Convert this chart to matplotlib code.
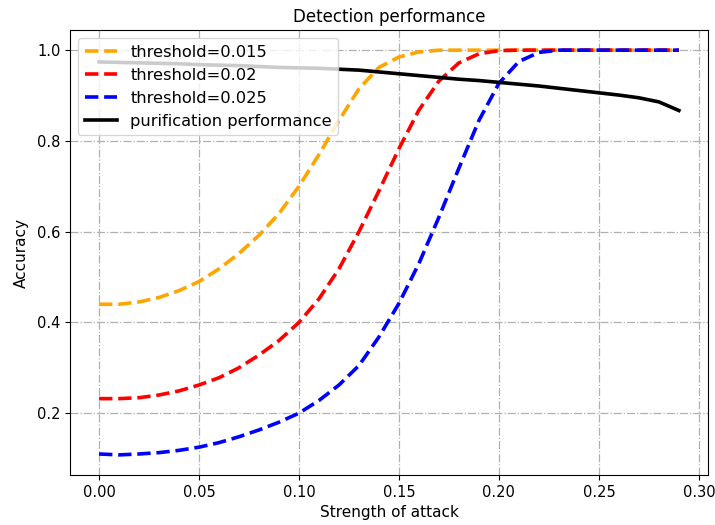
import matplotlib
matplotlib.use("Agg")
import matplotlib.pyplot as plt
import numpy as np

# attack strength 0.00 .. 0.29
strength = [i / 100 for i in range(30)]

acc_015 = [0.440, 0.440, 0.445, 0.455, 0.470, 0.490, 0.518, 0.552, 0.592, 0.640,
           0.700, 0.770, 0.845, 0.915, 0.962, 0.985, 0.996, 1.000, 1.000, 1.000,
           1.000, 1.000, 1.000, 1.000, 1.000, 1.000, 1.000, 1.000, 1.000, 1.000]
acc_02 = [0.232, 0.232, 0.234, 0.240, 0.249, 0.262, 0.278, 0.300, 0.328, 0.360,
          0.400, 0.452, 0.518, 0.600, 0.690, 0.783, 0.868, 0.932, 0.972, 0.992,
          0.999, 1.000, 1.000, 1.000, 1.000, 1.000, 1.000, 1.000, 1.000, 1.000]
acc_025 = [0.110, 0.108, 0.110, 0.113, 0.118, 0.125, 0.135, 0.148, 0.163, 0.180,
           0.200, 0.228, 0.262, 0.305, 0.368, 0.442, 0.530, 0.632, 0.740, 0.845,
           0.927, 0.975, 0.995, 1.000, 1.000, 1.000, 1.000, 1.000, 1.000, 1.000]
purification = [0.974, 0.973, 0.972, 0.971, 0.970, 0.968, 0.967, 0.966, 0.964, 0.962,
                0.961, 0.960, 0.958, 0.956, 0.952, 0.948, 0.944, 0.940, 0.936, 0.933,
                0.929, 0.925, 0.921, 0.916, 0.911, 0.906, 0.901, 0.895, 0.886, 0.867]

fig, ax = plt.subplots(figsize=(7.15, 5.25), dpi=100)

ax.plot(strength, acc_015, "--", color="orange", lw=2.6, label="threshold=0.015")
ax.plot(strength, acc_02, "--", color="red", lw=2.6, label="threshold=0.02")
ax.plot(strength, acc_025, "--", color="blue", lw=2.6, label="threshold=0.025")
ax.plot(strength, purification, "-", color="black", lw=2.6, label="purification performance")

ax.grid(True, linestyle="-.", color="#b0b0b0", lw=0.9)
ax.set_title("Detection performance", fontsize=12)
ax.set_xlabel("Strength of attack", fontsize=11)
ax.set_ylabel("Accuracy", fontsize=11, labelpad=6)
ax.tick_params(labelsize=10.5)
ax.legend(loc="upper left", fontsize=11.7)

plt.subplots_adjust(left=0.098, right=0.99, top=0.943, bottom=0.095)
plt.savefig("out.png")
